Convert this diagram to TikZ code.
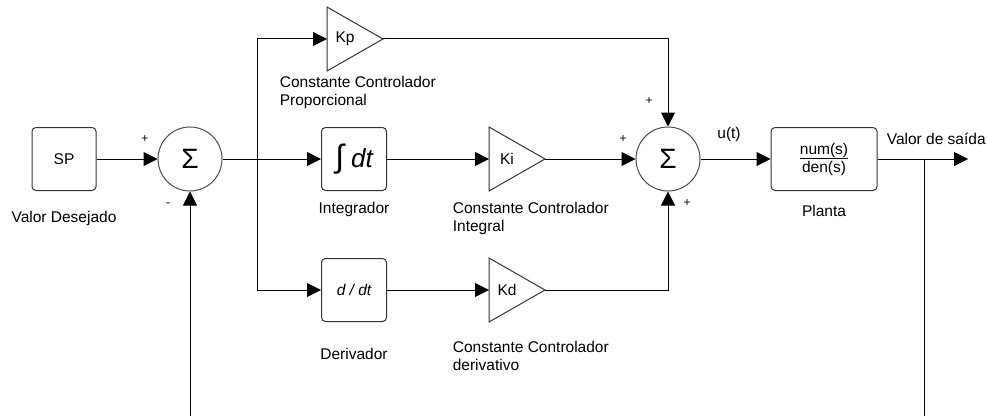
\documentclass[tikz,border=0pt]{standalone}
\usepackage{fontspec}
\setmainfont{Liberation Sans}
\usetikzlibrary{arrows.meta}
\begin{document}
\begin{tikzpicture}[x=1pt, y=1pt, line width=1pt,
    font=\fontsize{15.5}{18}\selectfont,
    bloco/.style={draw=black!80, rounded corners=4pt, minimum width=65pt, minimum height=63pt, inner sep=0pt},
    somador/.style={draw=black!70, circle, minimum size=64pt, inner sep=0pt, font=\fontsize{28}{28}\selectfont},
    seta/.style={-{Triangle[length=14pt,width=14pt]}},
    sinal/.style={font=\fontsize{12}{12}\selectfont}]
    \useasboundingbox (0,0) rectangle (987,416);
    \node[bloco, minimum width=64pt] (sp) at (64,257) {SP};
    \node[somador] (s1) at (190,257) {Σ};
    \node[bloco] (integ) at (354,257) {{\fontsize{32}{30}\selectfont ∫}\hspace{7pt}{\fontsize{26}{28}\selectfont\itshape dt}};
    \node[bloco] (deriv) at (354,126) {\itshape d / dt};
    \node[somador] (s2) at (668,257) {Σ};
    \node[bloco, minimum width=106pt, align=center] (planta) at (824,257) {\underline{num(s)}\\den(s)};
    \foreach \n/\x/\y/\t in {kp/327/377/Kp, ki/489/257/Ki, kd/489/126/Kd}{
        \draw[black!80] (\x,\y+32) -- (\x+56,\y) -- (\x,\y-32) -- cycle;
        \node (\n) at (\x+18,\y) {\t};
        \coordinate (\n-in) at (\x,\y);
        \coordinate (\n-out) at (\x+56,\y);
    }
    \coordinate (ramo) at (257,257);
    \coordinate (saida) at (968,257);
    \coordinate (medida) at (924,257);
    \coordinate (fim) at (924,0);
    \coordinate (retorno) at (190,0);
    \draw[seta] (sp) -- (s1);
    \draw (s1) -- (ramo);
    \draw[seta] (ramo) |- (kp-in);
    \draw[seta] (ramo) -- (integ);
    \draw[seta] (ramo) |- (deriv);
    \draw[seta] (integ) -- (ki-in);
    \draw[seta] (deriv) -- (kd-in);
    \draw[seta] (kp-out) -| (s2.north);
    \draw[seta] (ki-out) -- (s2);
    \draw[seta] (kd-out) -| (s2.south);
    \draw[seta] (s2) -- (planta);
    \draw[seta] (planta) -- (saida);
    \draw (medida) -- (fim);
    \draw[seta] (retorno) -- (s1);
    \node (lsp) at (64,198) {Valor Desejado};
    \node[sinal] (p1) at (145,277) {+};
    \node[sinal] (m1) at (168,211) {-};
    \node[anchor=west, align=left] (lkp) at (276,324) {Constante Controlador\\Proporcional};
    \node (linteg) at (354,207) {Integrador};
    \node[anchor=west, align=left] (lki) at (449,198) {Constante Controlador\\Integral};
    \node (lderiv) at (354,62) {Derivador};
    \node[anchor=west, align=left] (lkd) at (449,60) {Constante Controlador\\derivativo};
    \node[sinal] (p2) at (649,315) {+};
    \node[sinal] (p3) at (623,277) {+};
    \node[sinal] (p4) at (687,213) {+};
    \node (lu) at (729,282) {u(t)};
    \node (lplanta) at (824,205) {Planta};
    \node[anchor=west] (lsaida) at (883,277) {Valor de saída};
\end{tikzpicture}
\end{document}
